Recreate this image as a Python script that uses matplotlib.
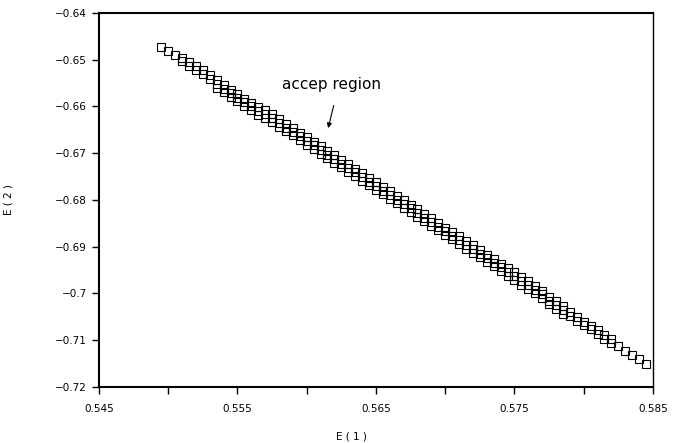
import numpy as np
import matplotlib.pyplot as plt

# E(1) column positions
e1_cols = [0.5495, 0.5500, 0.5505, 0.5510, 0.5515, 0.5520, 0.5525, 0.5530,
           0.5535, 0.5540, 0.5545, 0.5550, 0.5555, 0.5560, 0.5565, 0.5570,
           0.5575, 0.5580, 0.5585, 0.5590, 0.5595, 0.5600, 0.5605, 0.5610,
           0.5615, 0.5620, 0.5625, 0.5630, 0.5635, 0.5640, 0.5645, 0.5650,
           0.5655, 0.5660, 0.5665, 0.5670, 0.5675, 0.5680, 0.5685, 0.5690,
           0.5695, 0.5700, 0.5705, 0.5710, 0.5715, 0.5720, 0.5725, 0.5730,
           0.5735, 0.5740, 0.5745, 0.5750, 0.5755, 0.5760, 0.5765, 0.5770,
           0.5775, 0.5780, 0.5785, 0.5790, 0.5795, 0.5800, 0.5805, 0.5810,
           0.5815, 0.5820, 0.5825, 0.5830, 0.5835, 0.5840, 0.5845]

# E(2) values found in each column
e2_cols = [
    [-0.6472], [-0.6481], [-0.6490],
    [-0.6496, -0.6503], [-0.6505, -0.6513], [-0.6514, -0.6522],
    [-0.6523, -0.6531], [-0.6532, -0.6541],
    [-0.6544, -0.6552, -0.6560], [-0.6554, -0.6562, -0.6570],
    [-0.6564, -0.6572, -0.6580], [-0.6573, -0.6581, -0.6589],
    [-0.6583, -0.6591, -0.6599], [-0.6592, -0.6600, -0.6608],
    [-0.6602, -0.6610, -0.6618], [-0.6608, -0.6616, -0.6624],
    [-0.6617, -0.6625, -0.6633], [-0.6627, -0.6635, -0.6643],
    [-0.6637, -0.6645, -0.6653], [-0.6646, -0.6654, -0.6662],
    [-0.6656, -0.6664, -0.6672], [-0.6666, -0.6674, -0.6682],
    [-0.6675, -0.6683, -0.6691], [-0.6685, -0.6693, -0.6701],
    [-0.6695, -0.6703, -0.6711], [-0.6704, -0.6712, -0.6720],
    [-0.6714, -0.6722, -0.6730], [-0.6724, -0.6732, -0.6740],
    [-0.6733, -0.6741, -0.6749], [-0.6743, -0.6751, -0.6759],
    [-0.6753, -0.6761, -0.6769], [-0.6762, -0.6770, -0.6778],
    [-0.6772, -0.6780, -0.6788], [-0.6781, -0.6789, -0.6797],
    [-0.6791, -0.6799, -0.6807], [-0.6801, -0.6809, -0.6817],
    [-0.6810, -0.6818, -0.6826], [-0.6820, -0.6828, -0.6836],
    [-0.6830, -0.6838, -0.6846], [-0.6839, -0.6847, -0.6855],
    [-0.6849, -0.6857, -0.6865], [-0.6859, -0.6867, -0.6875],
    [-0.6868, -0.6876, -0.6884], [-0.6878, -0.6886, -0.6894],
    [-0.6888, -0.6896, -0.6904], [-0.6897, -0.6905, -0.6913],
    [-0.6907, -0.6915, -0.6923], [-0.6917, -0.6925, -0.6933],
    [-0.6926, -0.6934, -0.6942], [-0.6936, -0.6944, -0.6952],
    [-0.6946, -0.6954, -0.6962], [-0.6955, -0.6963, -0.6971],
    [-0.6965, -0.6973, -0.6981], [-0.6974, -0.6982, -0.6990],
    [-0.6984, -0.6992, -0.7000], [-0.6994, -0.7002, -0.7010],
    [-0.7007, -0.7015, -0.7023], [-0.7017, -0.7025, -0.7033],
    [-0.7027, -0.7035, -0.7043],
    [-0.7040, -0.7048], [-0.7050, -0.7058], [-0.7060, -0.7068],
    [-0.7069, -0.7077], [-0.7079, -0.7087], [-0.7089, -0.7097],
    [-0.7098, -0.7106],
    [-0.7112], [-0.7122], [-0.7131], [-0.7141], [-0.7151],
]

xticks_major = [0.545, 0.555, 0.565, 0.575, 0.585]
xticks_minor = [0.550, 0.560, 0.570, 0.580]
yticks = [-0.64, -0.65, -0.66, -0.67, -0.68, -0.69, -0.70, -0.71, -0.72]
ytick_labels = ['\u22120.64', '\u22120.65', '\u22120.66', '\u22120.67', '\u22120.68',
                '\u22120.69', '\u22120.7', '\u22120.71', '\u22120.72']

e1 = []
e2 = []
for x, ys in zip(e1_cols, e2_cols):
    for y in ys:
        e1.append(x)
        e2.append(y)

fig = plt.figure(figsize=(6.78, 4.43), dpi=100)
ax = fig.add_axes([0.146, 0.1264, 0.817, 0.8443])

ax.plot(e1, e2, linestyle='none', marker='s', markersize=5.2,
        markerfacecolor='none', markeredgecolor='black', markeredgewidth=0.8)

ax.set_xlim(0.545, 0.585)
ax.set_ylim(-0.72, -0.64)

ax.set_xticks(xticks_major)
ax.set_xticklabels([f'{t:g}' for t in xticks_major], fontsize=7.5)
ax.set_xticks(xticks_minor, minor=True)
ax.set_yticks(yticks)
ax.set_yticklabels(ytick_labels, fontsize=7.5)
ax.tick_params(axis='both', which='both', direction='out', length=5, width=1)
ax.tick_params(axis='x', pad=7)

for side in ['left', 'bottom', 'top']:
    ax.spines[side].set_linewidth(1.5)
ax.spines['right'].set_linewidth(1.0)

ax.set_xlabel('E ( 1 )', fontsize=7.5)
ax.xaxis.set_label_coords(0.455, -0.12)
ax.set_ylabel('E ( 2 )', fontsize=7.5)
ax.yaxis.set_label_coords(-0.155, 0.5)

ax.text(0.5618, -0.6552, 'accep region', fontsize=11, ha='center', va='center')
ax.annotate('', xy=(0.5615, -0.6652), xytext=(0.5620, -0.6592),
            arrowprops=dict(arrowstyle='-|>', color='black', lw=0.8,
                            mutation_scale=7))

fig.savefig('out.png', dpi=100)
